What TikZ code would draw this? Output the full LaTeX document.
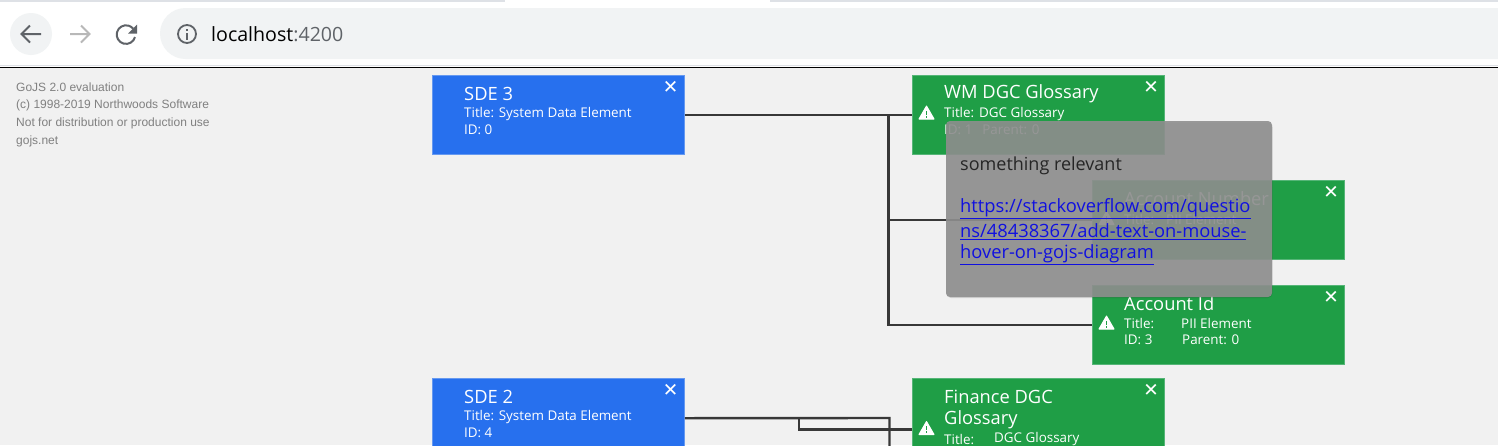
\documentclass[tikz,border=0pt]{standalone}
\usepackage{fontspec}
\setmainfont{Open Sans}
\newfontfamily\symfont{DejaVu Sans}
\newfontfamily\wmfont{Liberation Sans}
\usetikzlibrary{shadows}
\definecolor{canvasbg}{HTML}{F1F1F1}
\definecolor{chromebg}{HTML}{F1F3F4}
\definecolor{chromeline}{HTML}{DEE1E6}
\definecolor{iconc}{HTML}{5F6368}
\definecolor{sdeblue}{HTML}{2770EE}
\definecolor{sdeborder}{HTML}{6699F0}
\definecolor{dgcgreen}{HTML}{1F9E46}
\definecolor{dgcborder}{HTML}{55B577}
\definecolor{linkc}{HTML}{1010E0}
\definecolor{wire}{HTML}{383838}
\tikzset{
  x=1pt,y=-1pt,
  card/.style={minimum width=252pt,minimum height=79pt,inner sep=0pt,draw=#1,line width=.8pt,anchor=north west},
  sdecard/.style={card=sdeborder,fill=sdeblue},
  dgccard/.style={card=dgcborder,fill=dgcgreen},
  cardtitle/.style={text=white,anchor=west,inner sep=0pt,font=\fontsize{18.3}{20}\selectfont},
  cardline/.style={text=white,anchor=west,inner sep=0pt,font=\fontsize{13.4}{15}\selectfont},
  closex/.style={text=white,anchor=center,inner sep=0pt,font=\symfont\fontsize{18.5}{18.5}\selectfont},
  wirepath/.style={draw=wire,line width=2.4pt},
  wm/.style={text=black!50,anchor=west,inner sep=0pt,font=\wmfont\fontsize{12}{13}\selectfont},
  tiptext/.style={anchor=west,inner sep=0pt,font=\fontsize{18.3}{20}\selectfont},
  chromeicon/.style={draw=#1,line width=2pt},
}
\newcommand{\warnicon}[2]{%
  \fill[white,draw=white,line width=1pt,line join=round] (#1-7.5,#2+6.5) -- (#1,#2-6.5) -- (#1+7.5,#2+6.5) -- cycle;
  \fill[dgcgreen] (#1-.9,#2-2) rectangle (#1+.9,#2+2);
  \fill[dgcgreen] (#1-.9,#2+3) rectangle (#1+.9,#2+5);
}
\begin{document}
\begin{tikzpicture}
\useasboundingbox (0,0) rectangle (1498,445);
\clip (0,0) rectangle (1498,445);
% browser chrome
\fill[white] (0,0) rectangle (1498,66);
\fill[chromeline] (0,0) rectangle (505,2);
\fill[chromeline] (770,0) rectangle (1498,2);
\fill[chromeline] (0,64.5) rectangle (1498,66);
\fill[canvasbg] (0,67) rectangle (1498,445);
\fill[black] (0,66.5) rectangle (1498,68);
\fill[chromebg] (31,34) circle (21);
\fill[chromebg,rounded corners=25.5pt] (160,8) rectangle (1540,59);
% back, forward, reload, info
\draw[chromeicon=iconc] (41,34) -- (22,34) (30,25.5) -- (21.5,34) -- (30,42.5);
\draw[chromeicon=black!28] (89,34) -- (70,34) (81,25.5) -- (89.5,34) -- (81,42.5);
\draw[chromeicon=iconc] (135,37) arc[start angle=15,end angle=320,radius=9.3];
\fill[iconc] (137,24.5) -- (137,33.5) -- (128,33.5) -- cycle;
\draw[iconc,line width=1.8pt] (187,34) circle (9);
\fill[iconc] (186,32.5) rectangle (188,39.5);
\fill[iconc] (186,28.5) rectangle (188,30.5);
\node[anchor=west,inner sep=0pt,font=\fontsize{19.6}{22}\selectfont] (url) at (211,34) {localhost\textcolor{iconc}{:4200}};
% watermark
\node[wm] (w1) at (16,87) {GoJS 2.0 evaluation};
\node[wm] (w2) at (16,105) {(c) 1998-2019 Northwoods Software};
\node[wm] (w3) at (16,123) {Not for distribution or production use};
\node[wm] (w4) at (16,141) {gojs.net};
% cards
\node[sdecard] (sde3) at (432,75) {};
\node[dgccard] (wmg) at (912,75) {};
\node[dgccard] (acn) at (1092,180.3) {};
\node[dgccard] (aci) at (1092,285.3) {};
\node[sdecard] (sde2) at (432,378.3) {};
\node[dgccard] (fin) at (912,378.3) {};
% connectors
\coordinate (b3) at (888.5,114.5);
\coordinate (b2) at (889.5,418);
\coordinate (b2a) at (799,418);
\coordinate (finin) at (912,429.5);
\coordinate (b2end) at (889.5,460);
\draw[wirepath] (sde3.east) -- (wmg.west);
\draw[wirepath] (b3) |- (aci.west);
\draw[wirepath] (b3 |- acn.west) -- (acn.west);
\draw[wirepath] (sde2.east) -- (b2) -- (b2end);
\draw[wirepath] (b2a) |- (finin);
% card contents
\node[cardtitle] (t1) at (464,93.5) {SDE 3};
\node[cardline] (t1a) at (464,114) {Title: System Data Element};
\node[cardline] (t1b) at (464,130) {ID: 0};
\node[closex] (x1) at (670.5,87) {✕};
\node[cardtitle] (t2) at (944,94) {WM DGC Glossary};
\node[cardline] (t2a) at (944,114) {Title:\hspace{5pt}DGC Glossary};
\node[cardline] (t2b) at (944,130) {ID: 1\hspace{10pt}Parent: 0};
\node[closex] (x2) at (1151,87) {✕};
\warnicon{926.5}{112.5}
\node[cardtitle] (t3) at (1124,198.5) {Account Number};
\node[cardline] (t3a) at (1124,219) {Title:\hspace{12pt}PII Element};
\warnicon{1106.5}{218}
\node[closex] (x3) at (1331,192) {✕};
\node[cardtitle] (t4) at (1124,303.5) {Account Id};
\node[cardline] (t4a) at (1124,323) {Title:};
\node[cardline] (t4c) at (1181,323) {PII Element};
\node[cardline] (t4b) at (1124,339.5) {ID: 3};
\node[cardline] (t4d) at (1182,339.5) {Parent: 0};
\warnicon{1106.5}{322.5}
\node[closex] (x4) at (1331,297) {✕};
\node[cardtitle] (t5) at (464,396.5) {SDE 2};
\node[cardline] (t5a) at (464,417) {Title: System Data Element};
\node[cardline] (t5b) at (464,433) {ID: 4};
\node[closex] (x5) at (670.5,390.5) {✕};
\node[cardtitle] (t6) at (944,397) {Finance DGC};
\node[cardtitle] (t6b) at (944,420) {Glossary};
\node[cardline] (t6c) at (944,439) {Title:};
\node[cardline] (t6d) at (994,439) {DGC Glossary};
\warnicon{926.5}{428}
\node[closex] (x6) at (1151,390.5) {✕};
% tooltip
\fill[black,opacity=.12,rounded corners=5pt] (946,122.5) rectangle (1272.5,298);
\fill[black!44,opacity=.9,rounded corners=4pt] (946,121) rectangle (1272,297);
\node[tiptext,text=black!85,font=\fontsize{18}{20}\selectfont] (tip) at (960,166) {something relevant};
\node[tiptext,text=linkc] (l1) at (960,209) {\underline{https://stackoverflow.com/questio}};
\node[tiptext,text=linkc] (l2) at (960,232) {\underline{ns/48438367/add-text-on-mouse-}};
\node[tiptext,text=linkc] (l3) at (960,255) {\underline{hover-on-gojs-diagram}};
\end{tikzpicture}
\end{document}
